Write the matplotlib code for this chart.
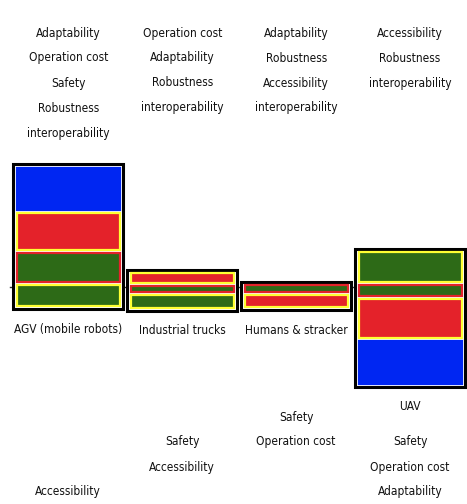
'''
Rainbow style chart of criteria contributions per handling alternative.
'''

######################################
### Import Modules                 ###
######################################

import matplotlib
matplotlib.use('Agg')
import matplotlib.pyplot as plt
from matplotlib import font_manager
from matplotlib.patches import Rectangle

######################################
### DATA                           ###
######################################

alternatives = ["AGV (mobile robots)", "Industrial trucks", "Humans & stracker", "UAV"]

# bottom of each stack (net flow units)
stack_base = [-0.20, -0.22, -0.21, -0.98]

# slice heights, from bottom to top
agv_heights = [0.24, 0.32, 0.40, 0.45]
trucks_heights = [0.16, 0.09, 0.13]
humans_heights = [0.15, 0.10]
uav_heights = [0.46, 0.42, 0.14, 0.33]

agv_kinds = ['green_y', 'green_r', 'red_y', 'blue']
trucks_kinds = ['green_y', 'green_r', 'red_y']
humans_kinds = ['red_y', 'green_r']
uav_kinds = ['blue', 'red_y', 'green_r', 'green_y']

upper_labels = [
    ["Adaptability", "Operation cost", "Safety", "Robustness", "interoperability"],
    ["Operation cost", "Adaptability", "Robustness", "interoperability"],
    ["Adaptability", "Robustness", "Accessibility", "interoperability"],
    ["Accessibility", "Robustness", "interoperability"],
]
lower_labels = [
    ["Accessibility"],
    ["Safety", "Accessibility"],
    ["Safety", "Operation cost"],
    ["Safety", "Operation cost", "Adaptability"],
]

######################################
### STYLE                          ###
######################################

BLUE = '#0026f2'
RED = '#e4222a'
GREEN = '#2d6a17'
YELLOW = '#ffff33'

styles = {
    'blue': (BLUE, BLUE),
    'red_y': (RED, YELLOW),
    'green_r': (GREEN, RED),
    'green_y': (GREEN, YELLOW),
}

# narrow font if there is one, else Liberation Sans
names = set(f.name for f in font_manager.fontManager.ttflist)
condensed = [f for f in font_manager.fontManager.ttflist
             if f.name == 'DejaVu Sans' and f.stretch == 'condensed']
if 'Liberation Sans Narrow' in names:
    FONT, STRETCH, fs = ['Liberation Sans Narrow'], 'normal', 9.0
elif condensed:
    FONT, STRETCH, fs = ['DejaVu Sans'], 'condensed', 8.6
else:
    FONT, STRETCH, fs = ['Liberation Sans', 'DejaVu Sans'], 'normal', 8.6

# layout of text columns
upper_y0 = 2.54
line_step = 0.25
lower_y0 = [-2.05, -1.55, -1.30, -1.55]

bar_width = 0.94
px_x = 1 / 113.7
px_y = 0.01

######################################
### DRAW                           ###
######################################

fig = plt.figure(figsize=(4.67, 5.04), dpi=100)
ax = fig.add_axes([0, 0, 1, 1])
ax.set_xlim(-0.60, 3.50)
ax.set_ylim(-2.17, 2.87)
ax.axis('off')

# zero line
ax.plot([-0.51, 3.50], [0, 0], color='#333333', lw=1.0, zorder=1)

all_heights = [agv_heights, trucks_heights, humans_heights, uav_heights]
all_kinds = [agv_kinds, trucks_kinds, humans_kinds, uav_kinds]

txt = dict(ha='center', va='center', fontsize=fs, family=FONT,
           fontstretch=STRETCH, color='#111111')

for i, name in enumerate(alternatives):
    left = i - bar_width / 2
    bottom = stack_base[i]
    total = sum(all_heights[i])

    # white background + black frame
    ax.add_patch(Rectangle((left - 1.5 * px_x, bottom - 1.5 * px_y), bar_width + 3 * px_x,
                           total + 3 * px_y, facecolor='white', edgecolor='black',
                           lw=2.2, zorder=2))

    # slices
    y = bottom
    for h, kind in zip(all_heights[i], all_kinds[i]):
        face, edge = styles[kind]
        ax.add_patch(Rectangle((left + 2 * px_x, y + 1.5 * px_y), bar_width - 4 * px_x,
                               h - 3 * px_y, facecolor=face, edgecolor=edge,
                               lw=1.6, zorder=3))
        y += h

    # alternative name
    ax.text(i, bottom - 0.22, name, **txt)

    # criteria above
    for k, lab in enumerate(upper_labels[i]):
        ax.text(i, upper_y0 - k * line_step, lab, **txt)

    # criteria below
    for k, lab in enumerate(lower_labels[i]):
        ax.text(i, lower_y0[i] - k * line_step, lab, **txt)

plt.savefig('out.png', dpi=100)
